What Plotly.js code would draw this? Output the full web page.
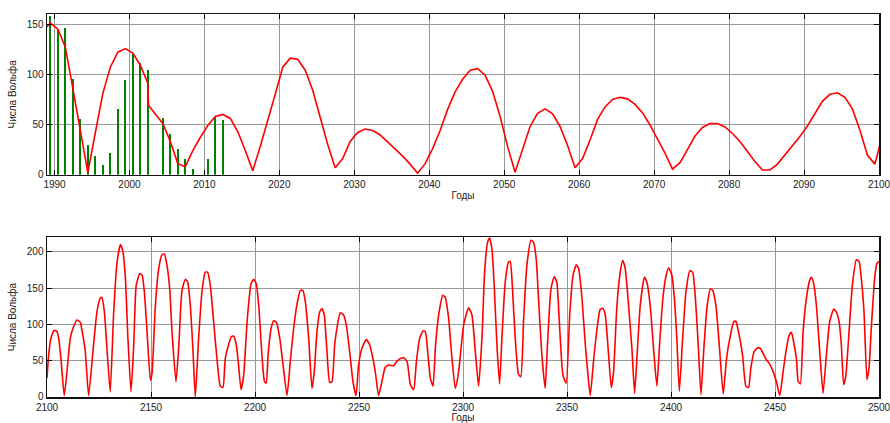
<!DOCTYPE html>
<html>
<head>
<meta charset="utf-8">
<script src="https://cdn.plot.ly/plotly-3.0.1.min.js"></script>
<style>html,body{margin:0;padding:0;background:#fff}#chart{width:890px;height:423px}</style>
</head>
<body>
<div id="chart"></div>
<script>
// ---- data ----
const yTitle = "Числа Вольфа";
const xTitle = "Годы";

// observed yearly Wolf numbers (green bars)
const barYears  = [1989,1990,1991,1992,1993,1994,1995,1996,1997,1998,1999,2000,2001,2002,2004,2005,2006,2007,2008,2010,2011,2012];
const barValues = [158,144,146,95,55,30,19,10,22,65,94,120.6,111.6,104,56,41,26,15.6,5.7,15.6,57.6,54.3];

// forecast, 1989-2100 (red line, top panel)
const topYears = [1988,1989,1990,1991,1992,1993,1994,1995,1996,1997,1998,1999,2000,2001,2002,2002.1,2003,2004,2005,2006,2007,2008,2009,2010,2011,2012,2013,2014,2015,2016,2017,2018,2019,2020,2021,2022,2023,2024,2025,2026,2027,2028,2029,2030,2031,2032,2033,2034,2035,2036,2037,2038,2039,2040,2041,2042,2043,2044,2045,2046,2047,2048,2049,2050,2051,2052,2053,2054,2055,2056,2057,2058,2059,2060,2061,2062,2063,2064,2065,2066,2067,2068,2069,2070,2071,2072,2073,2074,2075,2076,2077,2078,2079,2080,2081,2082,2083,2084,2085,2086,2087,2088,2089,2090,2091,2092,2093,2094,2095,2096,2097,2098,2099,2100];
const topValues = [143,151,145,127,86,43,2,42,81,107,122,125.5,121,109,91,69,60,51,33,11,8,24,37,49,58,60,56,43,24,4,28,53,80,107,116,115,104,84,56,30,7,16,33,42,45.5,44,39.5,32.5,26,18.5,10.5,1.5,11,26,44,65,82.5,95,104,105.5,99,83,58,28,2.5,24.5,48,61,65.5,60.5,48,29,7,16,34.5,55,67.5,75,77,75.5,70,61.5,49.5,35.5,21.5,5.5,12,25,38.5,47,51,51,47.5,41,33,23,13,4.7,4.7,10.5,19.5,28.5,38,48.5,61,73,80,81.5,77,65.5,44.5,19.5,10.5,39];

// forecast, 2100-2500 (red line, bottom panel)
const botYears = [2100,2100.8,2101.9,2103.5,2104.8,2105.6,2106.7,2108.3,2109.6,2111.2,2112.8,2114.4,2116,2116.8,2118.4,2120,2122.1,2124,2125.6,2126.4,2127.6,2128.5,2130.4,2132,2133.7,2135.3,2136.5,2137.7,2138.9,2140.4,2141.7,2142.9,2144.6,2145.7,2146.8,2148.1,2149.7,2150.5,2152.1,2153.7,2155.3,2156.4,2157.7,2159,2160.1,2162,2163.3,2164.9,2166.5,2167.6,2168.9,2170.2,2171.3,2172.9,2174.5,2176.1,2177.2,2178.5,2180.1,2181.7,2183.3,2184.6,2185.7,2187.3,2188.6,2189.7,2191,2192.1,2193.3,2194.6,2196.2,2198.1,2199.4,2200.6,2201.8,2203,2204.5,2205.4,2206.3,2207.7,2209,2210.3,2211.9,2213.5,2215.4,2217,2218.6,2220.2,2221.8,2223,2224.2,2225.8,2227.4,2228.5,2229.8,2231.1,2232.2,2233.3,2234.6,2235.9,2237,2238.3,2239.4,2241,2242.6,2243.9,2245.5,2247.1,2248.6,2249.8,2251.4,2253.5,2255.1,2256.7,2258,2259.4,2261,2262.6,2264.3,2266.6,2268.2,2269.9,2271.5,2273.1,2274.7,2276.3,2277.6,2279.2,2280.8,2281.9,2283,2284.3,2285.6,2286.7,2288.3,2290.3,2291.5,2293.1,2294.7,2296.3,2297.9,2300.3,2302.7,2304.3,2305.9,2307.5,2309.1,2310.4,2311.8,2312.8,2313.9,2315,2316.3,2317.6,2318.7,2320.3,2321.9,2322.7,2323.8,2325.1,2326.7,2327.8,2329.1,2330.7,2332.7,2333.9,2335.2,2336.3,2337.9,2339.5,2340.6,2342.3,2343.9,2345.1,2346.4,2348,2349.6,2351.3,2352.9,2354.5,2355.6,2357.2,2358.8,2360.4,2361.2,2362.8,2364.4,2366,2367.3,2368.4,2370,2371.3,2372.4,2374,2375.6,2376.8,2378,2379.6,2381.2,2382.5,2383.6,2385.2,2387.2,2388.4,2390,2391.6,2393.2,2394.5,2396.1,2397.7,2398.9,2400.4,2401.5,2402.8,2404,2405.6,2407.2,2409.1,2410.4,2411.5,2413.1,2414.4,2415.8,2417.4,2419,2420,2421.6,2423.2,2425.1,2426.7,2428.3,2430.2,2431.2,2432.8,2434.4,2436,2437.3,2438.4,2440,2441.9,2443.2,2444.6,2445.9,2447.5,2449.1,2450.7,2452.3,2453.9,2455.5,2456.8,2457.9,2459.2,2460.3,2461.1,2462.2,2463.5,2465.1,2466.7,2467.5,2468.6,2469.9,2471.5,2473.1,2474.7,2476.3,2478.2,2479.5,2480.8,2481.9,2483,2484,2485.6,2487.2,2489.1,2490.4,2491.5,2492.8,2494.2,2495.2,2496.3,2497.9,2499,2499.8,2500.6];
const botValues = [26,58,81,92,90,81,53,2,35,81,97,106,103,92,63,2,63,117,136,137,117,81,7,113,186,210,200,163,81,7,72,154,170,168,145,90,23,33,126,177,196,197,181,149,90,21,67,147,162,159,126,63,0,81,145,172,172,154,104,53,15,13,53,72,83,84,72,44,10,31,104,156,162,156,126,72,22,19,58,94,105,103,81,44,2,50,95,128,147,147,131,81,12,35,90,117,122,113,63,20,21,72,95,116,113,99,63,21,2,44,67,79,72,53,31,2,21,41,44,43,49,53,54,49,17,10,49,81,91,90,63,26,15,67,113,140,137,108,53,12,35,99,123,113,63,15,81,172,213,219,204,154,72,18,81,158,186,187,149,81,31,28,104,181,216,213,190,136,58,12,72,149,166,158,99,31,19,113,168,182,177,136,72,21,2,51,93,121,122,113,58,13,35,126,172,188,177,126,67,5,53,126,165,158,126,67,15,72,136,168,178,168,140,81,8,81,145,174,172,145,72,3,67,126,149,147,126,72,4,53,81,104,104,85,58,15,13,40,63,68,66,58,51,45,35,21,2,35,67,85,89,72,53,22,18,90,136,161,165,156,126,63,5,58,104,121,117,104,72,17,28,90,154,189,187,163,117,24,40,95,163,184,186,182];

const topTicks = [1990,2000,2010,2020,2030,2040,2050,2060,2070,2080,2090,2100];
const botTicks = [2100,2150,2200,2250,2300,2350,2400,2450,2500];

// ---- styles ----
const RED = "#ff0000", GREEN = "#008000";
const barOffset = 0.45; // bars/points sit near mid-year

const traces = [
  {type:"bar", x: barYears.map(v => v + barOffset), y: barValues, width: 0.27,
   marker:{color:GREEN, line:{width:0}}, xaxis:"x", yaxis:"y", hoverinfo:"x+y"},
  {type:"scatter", mode:"lines", x: topYears.map(v => v + barOffset), y: topValues,
   line:{color:RED, width:1.6}, xaxis:"x", yaxis:"y", cliponaxis:true},
  {type:"scatter", mode:"lines", x: botYears, y: botValues,
   line:{color:RED, width:1.6, shape:"spline", smoothing:0.5}, xaxis:"x2", yaxis:"y2", cliponaxis:true}
];

const tickFont = {family:"Liberation Sans, Arial, sans-serif", size:10, color:"#222"};
const titleFont = {family:"Liberation Sans, Arial, sans-serif", size:10, color:"#222"};

const axisCommon = {
  showline:true, linecolor:"#111", linewidth:1.5, mirror:"ticks",
  ticks:"inside", ticklen:5, tickcolor:"#000", tickwidth:1,
  showgrid:true, gridcolor:"#999", gridwidth:1,
  zeroline:false, tickfont:tickFont, automargin:false, fixedrange:true,
  ticklabeloverflow:"allow"
};

const layout = {
  width:890, height:423,
  margin:{l:47, r:11, t:14, b:26},
  paper_bgcolor:"#fff", plot_bgcolor:"#fff",
  showlegend:false, bargap:0,
  xaxis: Object.assign({}, axisCommon, {
    domain:[0,1], anchor:"y", range:[1989,2100], tickmode:"array", tickvals:topTicks,
    title:{text:xTitle, font:titleFont, standoff:3}
  }),
  yaxis: Object.assign({}, axisCommon, {
    domain:[0.5805,1], anchor:"x", range:[0,160], tickmode:"array", tickvals:[0,50,100,150],
    title:{text:yTitle, font:titleFont, standoff:8}
  }),
  xaxis2: Object.assign({}, axisCommon, {
    domain:[0,1], anchor:"y2", range:[2100,2500], tickmode:"array", tickvals:botTicks,
    title:{text:xTitle, font:titleFont, standoff:3}
  }),
  yaxis2: Object.assign({}, axisCommon, {
    domain:[0,0.417], anchor:"x2", range:[0,220], tickmode:"array", tickvals:[0,50,100,150,200],
    title:{text:yTitle, font:titleFont, standoff:8}
  })
};

Plotly.newPlot("chart", traces, layout, {displayModeBar:false, staticPlot:true});
</script>
</body>
</html>
